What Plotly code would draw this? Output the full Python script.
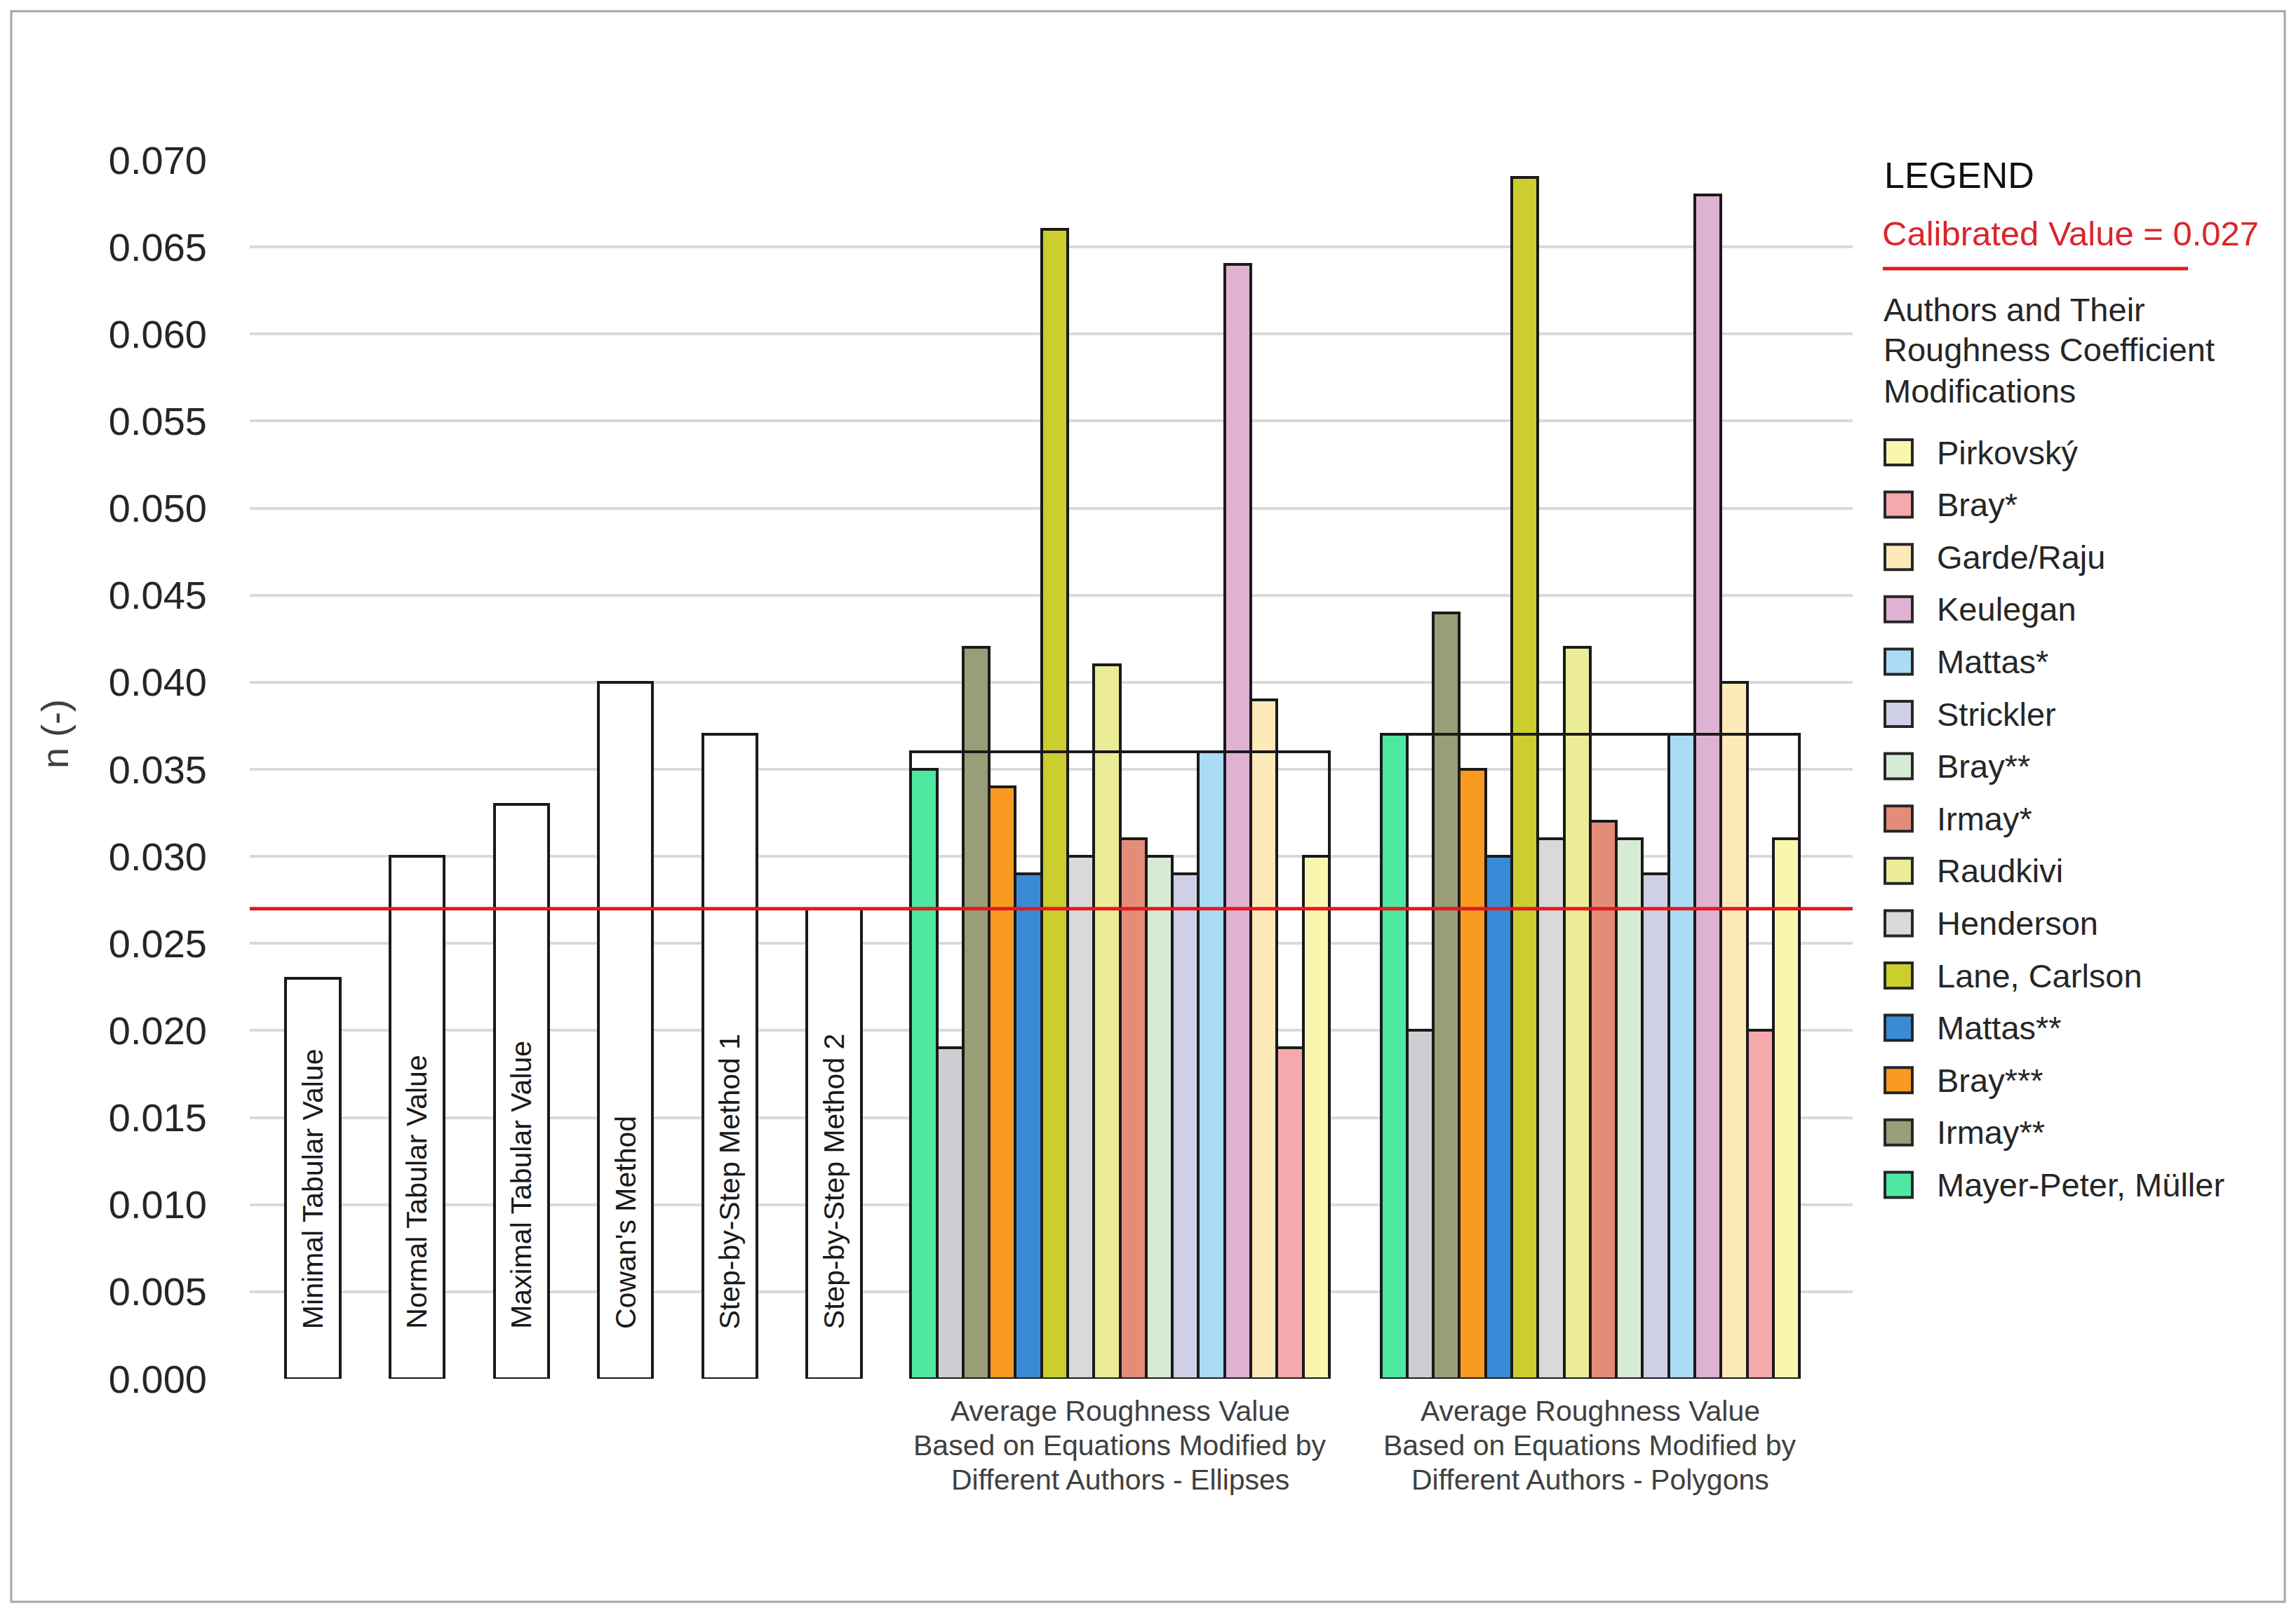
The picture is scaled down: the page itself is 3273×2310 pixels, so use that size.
import plotly.graph_objects as go

# ---------------- data ----------------
single_labels = [
    "Minimal Tabular Value",
    "Normal Tabular Value",
    "Maximal Tabular Value",
    "Cowan's Method",
    "Step-by-Step Method 1",
    "Step-by-Step Method 2",
]
single_values = [0.023, 0.030, 0.033, 0.040, 0.037, 0.027]

group_labels = [
    ["Average Roughness Value", "Based on Equations Modified by", "Different Authors - Ellipses"],
    ["Average Roughness Value", "Based on Equations Modified by", "Different Authors - Polygons"],
]
group_averages = [0.036, 0.037]

# author series in bar order (left -> right inside each group); None = unlabelled series
author_names = [
    "Mayer-Peter, Müller", None, "Irmay**", "Bray***", "Mattas**", "Lane, Carlson",
    "Henderson", "Raudkivi", "Irmay*", "Bray**", "Strickler", "Mattas*",
    "Keulegan", "Garde/Raju", "Bray*", "Pirkovský",
]
ellipse_values = [0.035, 0.019, 0.042, 0.034, 0.029, 0.066, 0.030, 0.041,
                  0.031, 0.030, 0.029, 0.036, 0.064, 0.039, 0.019, 0.030]
polygon_values = [0.037, 0.020, 0.044, 0.035, 0.030, 0.069, 0.031, 0.042,
                  0.032, 0.031, 0.029, 0.037, 0.068, 0.040, 0.020, 0.031]
author_colors = [
    "#4ee8a0", "#cfccd4", "#9a9e78", "#f99b20", "#3a8bd6", "#cccd2e",
    "#d9d9d9", "#ecec98", "#e48c78", "#d6ebd3", "#cfd0e6", "#aadcf5",
    "#dfb2d4", "#fdeab8", "#f6a9ac", "#faf6b0",
]

calibrated_value = 0.027
calibrated_label = "Calibrated Value = 0.027"
y_tick_values = [0.000, 0.005, 0.010, 0.015, 0.020, 0.025, 0.030, 0.035,
                 0.040, 0.045, 0.050, 0.055, 0.060, 0.065, 0.070]
y_title = "n (-)"
legend_title = "LEGEND"
legend_subtitle = ["Authors and Their", "Roughness Coefficient", "Modifications"]

# ---------------- layout constants ----------------
SCREEN_W, SCREEN_H = 3273, 2310
OFF = 8                                   # page body margin
W, H = SCREEN_W - OFF, SCREEN_H - OFF
# plot area in screen pixels
SPL, SPR, SPT, SPB = 356, 2641, 228, 1966
PL, PR, PT, PB = SPL - OFF, SPR - OFF, SPT - OFF, SPB - OFF
FONT = "Liberation Sans, Arial, Helvetica, sans-serif"
X_RANGE = 30.75
SINGLE_FIRST, SLOT, SINGLE_W = 1.21, 2.0, 1.04
GROUP_START, GROUP_STEP, GROUP_W = 12.68, 9.02, 8.03
EDGE = "#1a1a1a"
EDGE_W = 4
LABEL_BASE = 0.00277


def px_x(px):
    """screen x pixel -> paper coordinate"""
    return (px - OFF - PL) / (PR - PL)


def px_y(py):
    """screen y pixel -> paper coordinate"""
    return (PB - (py - OFF)) / (PB - PT)


fig = go.Figure()

# single method bars
single_x = [SINGLE_FIRST + SLOT * i for i in range(len(single_values))]
fig.add_trace(go.Bar(
    x=single_x, y=single_values, width=SINGLE_W,
    marker=dict(color="white", line=dict(color=EDGE, width=EDGE_W)),
    name="Methods", showlegend=False, text=single_labels, hoverinfo="y+text",
    textposition="none",
))

# author bars
n_auth = len(author_names)
bw = GROUP_W / n_auth
for j, name in enumerate(author_names):
    xs = [GROUP_START + g * GROUP_STEP + (j + 0.5) * bw for g in range(2)]
    fig.add_trace(go.Bar(
        x=xs, y=[ellipse_values[j], polygon_values[j]], width=bw,
        marker=dict(color=author_colors[j], line=dict(color=EDGE, width=EDGE_W)),
        name=name if name else "unlabelled", showlegend=False,
    ))

# group average outline
fig.add_trace(go.Bar(
    x=[GROUP_START + g * GROUP_STEP + GROUP_W / 2 for g in range(2)],
    y=group_averages, width=GROUP_W,
    marker=dict(color="rgba(0,0,0,0)", line=dict(color=EDGE, width=EDGE_W)),
    name="Average", showlegend=False,
))

annotations = []
shapes = []

# rotated labels inside single bars
for xv, lab in zip(single_x, single_labels):
    annotations.append(dict(
        x=xv, y=LABEL_BASE, xref="x", yref="y", text=lab, textangle=-90,
        showarrow=False, xanchor="center", yanchor="bottom",
        font=dict(family=FONT, size=41, color="#1a1a1a"),
    ))

# group category labels
for g, lines in enumerate(group_labels):
    cx = GROUP_START + g * GROUP_STEP + GROUP_W / 2
    for k, line in enumerate(lines):
        annotations.append(dict(
            x=cx, y=px_y(2012 + 49 * k), xref="x", yref="paper", text=line,
            showarrow=False, xanchor="center", yanchor="middle",
            font=dict(family=FONT, size=41, color="#404040"),
        ))

# y axis title
annotations.append(dict(
    x=px_x(78), y=px_y(1047), xref="paper", yref="paper", text=y_title,
    textangle=-90, showarrow=False, xanchor="center", yanchor="middle",
    font=dict(family=FONT, size=54, color="#404040"),
))

# calibrated line
shapes.append(dict(
    type="line", xref="paper", yref="y", x0=0, x1=1,
    y0=calibrated_value, y1=calibrated_value,
    line=dict(color="#e3191f", width=5), layer="above",
))

# custom legend
LX = 2684
annotations.append(dict(
    x=px_x(LX), y=px_y(250), xref="paper", yref="paper", text=legend_title,
    showarrow=False, xanchor="left", yanchor="middle",
    font=dict(family=FONT, size=52, color="#111111"),
))
annotations.append(dict(
    x=px_x(LX - 3), y=px_y(333), xref="paper", yref="paper", text=calibrated_label,
    showarrow=False, xanchor="left", yanchor="middle",
    font=dict(family=FONT, size=49, color="#d9262b"),
))
shapes.append(dict(
    type="line", xref="paper", yref="paper",
    x0=px_x(LX), x1=px_x(3119), y0=px_y(383), y1=px_y(383),
    line=dict(color="#e3191f", width=5),
))
for k, line in enumerate(legend_subtitle):
    annotations.append(dict(
        x=px_x(LX - 1), y=px_y(441 + 58 * k), xref="paper", yref="paper", text=line,
        showarrow=False, xanchor="left", yanchor="middle",
        font=dict(family=FONT, size=47, color="#262626"),
    ))

legend_items = [(n, c) for n, c in zip(author_names, author_colors) if n][::-1]
for k, (name, col) in enumerate(legend_items):
    cy = 645 + 74.6 * k
    shapes.append(dict(
        type="rect", xref="paper", yref="paper",
        x0=px_x(2687), x1=px_x(2726), y0=px_y(cy - 18), y1=px_y(cy + 18),
        fillcolor=col, line=dict(color="#262626", width=4),
    ))
    annotations.append(dict(
        x=px_x(2759), y=px_y(cy), xref="paper", yref="paper", text=name,
        showarrow=False, xanchor="left", yanchor="middle",
        font=dict(family=FONT, size=47, color="#262626"),
    ))

# outer frame
shapes.append(dict(
    type="rect", xref="paper", yref="paper",
    x0=px_x(16), x1=px_x(3257), y0=px_y(2284), y1=px_y(16),
    line=dict(color="#a6a6a6", width=3), fillcolor="rgba(0,0,0,0)", layer="below",
))

fig.update_layout(
    width=W, height=H,
    margin=dict(l=PL, r=W - PR, t=PT, b=H - PB, pad=0),
    paper_bgcolor="white", plot_bgcolor="white",
    barmode="overlay", bargap=0,
    showlegend=False,
    font=dict(family=FONT, color="#262626"),
    xaxis=dict(range=[0, X_RANGE], showgrid=False, zeroline=False,
               showticklabels=False, showline=False, ticks=""),
    yaxis=dict(range=[0, 0.070], tickvals=y_tick_values, tickformat=".3f",
               showgrid=True, gridcolor="#d9d9d9", gridwidth=3.5,
               zeroline=False, showline=False, ticks="",
               tickfont=dict(family=FONT, size=56, color="#262626"),
               ticklabelstandoff=60),
    annotations=annotations,
    shapes=shapes,
)

fig.write_html("out.html")
